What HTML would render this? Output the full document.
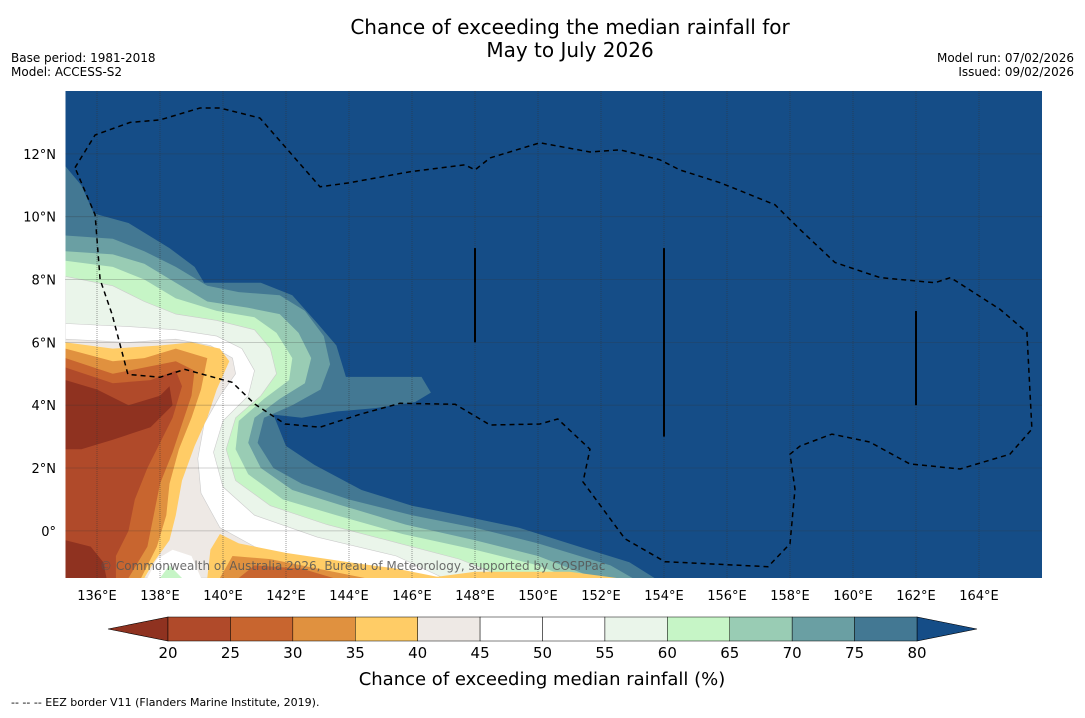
<!DOCTYPE html>
<html><head><meta charset="utf-8">
<style>
body{margin:0;background:#fff;width:1085px;height:713px;overflow:hidden;font-family:"Liberation Sans",sans-serif;}
svg text{font-family:"DejaVu Sans","Liberation Sans",sans-serif;}
</style></head>
<body>
<svg id="chart" width="1085" height="713" xmlns="http://www.w3.org/2000/svg">
<text x="570" y="34" font-size="20" text-anchor="middle">Chance of exceeding the median rainfall for</text>
<text x="570" y="57" font-size="20" text-anchor="middle">May to July 2026</text>
<text x="11" y="62" font-size="12">Base period: 1981-2018</text>
<text x="11" y="76" font-size="12">Model: ACCESS-S2</text>
<text x="1074" y="62" font-size="12" text-anchor="end">Model run: 07/02/2026</text>
<text x="1074" y="76" font-size="12" text-anchor="end">Issued: 09/02/2026</text>
<defs><clipPath id="mapclip"><rect x="65.5" y="91" width="976.5" height="487"/></clipPath></defs>
<g id="map" clip-path="url(#mapclip)"></g>
<g id="axes"></g>
<g id="cbar"></g>
<text x="542" y="685" font-size="18" text-anchor="middle">Chance of exceeding median rainfall (%)</text>
<text x="11" y="706" font-size="11">--  --  -- EEZ border V11 (Flanders Marine Institute, 2019).</text>
</svg>
<script>
const lonMin=135, lonMax=166, latMin=-1.5, latMax=14;
const lonTicks=[136,138,140,142,144,146,148,150,152,154,156,158,160,162,164];
const latTicks=[0,2,4,6,8,10,12];
const bandThresholds=[80,75,70,65,60,55,45,40,35,30,25,20];
const bandColors=["#437893","#6a9fa3","#99ccb4","#c6f5c6","#eaf5ea","#ffffff","#eee9e5","#ffcc66","#e0913f","#c8652f","#b04a2a","#8f3220"];
const cbLevels=[20,25,30,35,40,45,50,55,60,65,70,75,80];
const cbColors=["#b04a2a","#c8652f","#e0913f","#ffcc66","#eee9e5","#ffffff","#ffffff","#eaf5ea","#c6f5c6","#99ccb4","#6a9fa3","#437893"];
const band80=[[135,11.6],[135.5,11.0],[135.9,10.1],[137,9.8],[138.3,9.0],[139.1,8.4],[139.4,7.9],[141.2,7.9],[142.2,7.5],[143,6.6],[143.6,5.9],[143.9,4.9],[146.3,4.9],[146.6,4.4],[146.1,4.1],[144.8,3.9],[143.6,3.8],[142.5,3.6],[141.6,3.7],[142.0,2.7],[142.9,2.1],[144.4,1.3],[146.0,0.8],[147.5,0.5],[149.4,0.1],[151.3,-0.5],[152.9,-1.0],[153.7,-1.5],[135,-1.5]];
const band75=[[135,9.4],[136.5,9.3],[137.5,8.9],[138.5,8.4],[139.5,7.8],[140.5,7.6],[141.8,7.5],[142.6,7.0],[143.2,6.2],[143.4,5.3],[143.1,4.5],[142.2,4.0],[141.3,3.6],[141.1,2.8],[141.6,2.0],[142.5,1.5],[144,1.0],[146,0.5],[148,0.1],[150,-0.4],[152.3,-1.1],[153,-1.5],[135,-1.5]];
const band70=[[135,8.9],[136.5,8.8],[137.5,8.5],[138.5,7.9],[139.5,7.3],[140.8,7.1],[141.8,6.9],[142.4,6.3],[142.8,5.5],[142.6,4.7],[141.8,4.2],[141,3.6],[140.8,2.8],[141.2,2.0],[142.2,1.3],[143.8,0.8],[145.8,0.2],[148,-0.3],[150,-0.8],[151.8,-1.5],[135,-1.5]];
const band65=[[135,8.6],[136.5,8.4],[137.5,8.0],[138.5,7.4],[139.8,7.0],[141,6.8],[141.7,6.3],[142.2,5.5],[142.1,4.8],[141.3,4.2],[140.5,3.5],[140.4,2.6],[140.8,1.8],[141.9,1.0],[143.6,0.5],[145.7,-0.1],[148,-0.6],[150,-1.1],[151,-1.5],[135,-1.5]];
const band60=[[135,8.1],[136.5,7.8],[137.5,7.3],[138.5,6.9],[139.8,6.7],[141,6.4],[141.5,5.8],[141.7,5.0],[141.2,4.3],[140.4,3.6],[140.1,2.6],[140.4,1.6],[141.5,0.8],[143.3,0.2],[145.6,-0.4],[147.5,-0.9],[149,-1.5],[135,-1.5]];
const band55=[[135,6.6],[137,6.5],[138.5,6.4],[139.8,6.2],[140.6,5.8],[141.0,5.1],[140.8,4.3],[140.0,3.5],[139.7,2.5],[140.0,1.4],[141.0,0.5],[143,-0.2],[145.5,-0.8],[147,-1.5],[135,-1.5]];
const band45=[[135,6.1],[137,6.0],[138.5,6.1],[139.6,5.9],[140.3,5.5],[140.4,5.0],[139.9,4.3],[139.4,3.4],[139.2,2.3],[139.3,1.2],[139.9,0.1],[141,-0.5],[142.5,-1.0],[143.5,-1.5],[135,-1.5]];
const band40=[[135,6.0],[136.5,5.8],[138,5.9],[139,6.0],[139.9,5.8],[140.2,5.4],[139.8,4.5],[139.5,3.6],[139.1,2.7],[138.7,1.6],[138.5,0.5],[138.3,-0.3],[137.8,-1.0],[137.5,-1.5],[135,-1.5]];
const band35=[[135,5.8],[136.5,5.4],[137.5,5.5],[138.5,5.8],[139.5,5.5],[139.3,4.5],[139.0,3.6],[138.6,2.6],[138.3,1.5],[138.2,0.5],[137.9,-0.5],[137.4,-1.5],[135,-1.5]];
const band30=[[135,5.5],[136.5,5.0],[137.5,5.2],[138.5,5.4],[139.1,5.1],[139.0,4.3],[138.7,3.4],[138.4,2.5],[138.0,1.5],[137.8,0.5],[137.6,-0.5],[137.0,-1.5],[135,-1.5]];
const band25=[[135,5.2],[136.5,4.7],[137.7,4.8],[138.5,5.1],[138.7,4.6],[138.4,3.6],[138.0,2.8],[137.6,2.0],[137.2,1.0],[137.0,0],[136.6,-0.8],[136.6,-1.5],[135,-1.5]];
const band20=[[135,4.8],[136,4.5],[137,4.0],[138,4.3],[138.3,4.6],[138.4,4.0],[137.7,3.3],[136.5,2.9],[135.5,2.6],[135,2.6]];
const band20b=[[135,-0.3],[135.8,-0.5],[136.2,-1.0],[136.3,-1.5],[135,-1.5]];
const blobWhite=[[137.6,-1.5],[137.9,-0.9],[138.4,-0.6],[139.0,-0.8],[139.3,-1.5]];
const blobGreen=[[138.0,-1.5],[138.3,-1.1],[138.7,-1.5]];
const blobYellow=[[139.5,-1.5],[139.6,-0.6],[139.9,-0.1],[140.5,-0.4],[142,-0.7],[144,-1.0],[145.5,-1.2],[147,-1.5]];
const blobYellow2=[[146.5,-1.5],[148,-1.3],[151,-1.3],[152.5,-1.5]];
const blobOrange=[[139.9,-1.5],[140.3,-0.8],[141.5,-0.9],[143.5,-1.3],[144.5,-1.5]];
const blobOrange2=[[140.5,-1.5],[141,-1.1],[142.5,-1.2],[143.5,-1.5]];
const eez=[[135.3,11.56],[135.94,12.6],[137.05,13.0],[138.0,13.08],[139.27,13.46],[139.9,13.46],[141.17,13.14],[143.08,10.95],[144.03,11.08],[145.94,11.43],[147.68,11.65],[148.0,11.49],[148.48,11.87],[150.06,12.35],[151.65,12.06],[152.6,12.13],[153.87,11.81],[154.5,11.49],[155.78,11.08],[157.52,10.38],[158.32,9.59],[159.43,8.54],[160.86,8.06],[162.6,7.9],[163.1,8.06],[164.67,7.05],[165.52,6.32],[165.68,3.24],[164.98,2.44],[163.4,1.97],[161.8,2.13],[160.53,2.83],[159.33,3.08],[158.32,2.7],[158.0,2.44],[158.16,1.33],[158.0,-0.41],[157.3,-1.14],[154.03,-0.98],[152.76,-0.25],[151.43,1.56],[151.65,2.6],[150.63,3.56],[150.06,3.4],[148.48,3.37],[147.37,4.03],[145.62,4.06],[144.35,3.71],[143.08,3.3],[141.97,3.4],[141.02,4.03],[140.29,4.73],[138.79,5.14],[138.0,4.89],[136.98,4.98],[136.48,6.89],[136.1,8.0],[135.94,10.06],[135.3,11.56]];
const ridges=[[148,9,6],[154,9,3],[162,7,4]];

const X0=65.5,X1=1042,Y0=91,Y1=578;
const xS=l=>X0+(l-lonMin)/(lonMax-lonMin)*(X1-X0);
const yS=l=>Y1-(l-latMin)/(latMax-latMin)*(Y1-Y0);
const NS="http://www.w3.org/2000/svg";
function mk(tag,attrs,parent){const e=document.createElementNS(NS,tag);for(const k in attrs)e.setAttribute(k,attrs[k]);parent.appendChild(e);return e;}
const map=document.getElementById('map'),axes=document.getElementById('axes'),cbar=document.getElementById('cbar');
const bg=mk('rect',{x:X0,y:Y0,width:X1-X0,height:Y1-Y0,fill:'#154d87'},map);


const pts=a=>a.map(p=>xS(p[0]).toFixed(1)+','+yS(p[1]).toFixed(1)).join(' ');
const bands=[band80,band75,band70,band65,band60,band55,band45,band40,band35,band30,band25,band20];
bands.forEach((b,i)=>{
  const p=mk('polygon',{points:pts(b),fill:bandColors[i],stroke:i>=4&&i<=6?'#cccccc':'none','stroke-width':0.6},map);
  
  
});
[[band20b,11],[blobWhite,5],[blobGreen,3],[blobYellow,7],[blobYellow2,7],[blobOrange,8],[blobOrange2,9]].forEach(([b,c])=>{
  const p=mk('polygon',{points:pts(b),fill:bandColors[c]},map);
  
  
});
lonTicks.forEach(l=>{const g=mk('line',{x1:xS(l),x2:xS(l),y1:Y0,y2:Y1,stroke:'#333','stroke-opacity':0.6,'stroke-width':0.8,'stroke-dasharray':'1,1'},map);
  
  });
latTicks.forEach(l=>{const g=mk('line',{x1:X0,x2:X1,y1:yS(l),y2:yS(l),stroke:'#333','stroke-opacity':0.6,'stroke-width':0.8,'stroke-dasharray':'1,1'},map);
  
  });
ridges.forEach(r=>{const g=mk('line',{x1:xS(r[0]),x2:xS(r[0]),y1:yS(r[1]),y2:yS(r[2]),stroke:'#000','stroke-width':2},map);
  
  });
const ez=mk('polyline',{points:pts(eez),fill:'none',stroke:'#000','stroke-width':1.5,'stroke-dasharray':'5,4'},map);


const wm=mk('text',{x:100,y:570,'font-size':12,fill:'#555','fill-opacity':0.85},map);
wm.textContent='© Commonwealth of Australia 2026, Bureau of Meteorology, supported by COSPPac';


lonTicks.forEach(l=>{const t=mk('text',{x:xS(l),y:600,'font-size':13,'text-anchor':'middle'},axes);t.textContent=l+'°E';
  
  });
latTicks.forEach(l=>{const t=mk('text',{x:56,y:yS(l)+5,'font-size':13,'text-anchor':'end'},axes);t.textContent=l===0?'0°':l+'°N';
  
  });
const CX0=168,CX1=917,CY0=617,CY1=641;
const cx=v=>CX0+(v-cbLevels[0])/(cbLevels[cbLevels.length-1]-cbLevels[0])*(CX1-CX0);
const tl=mk('polygon',{points:`108,629 ${CX0},${CY0} ${CX0},${CY1}`,fill:'#8f3220',stroke:'#000','stroke-width':0.6},cbar);


const tr=mk('polygon',{points:`977,629 ${CX1},${CY0} ${CX1},${CY1}`,fill:'#154d87',stroke:'#000','stroke-width':0.6},cbar);


cbColors.forEach((c,i)=>{const r=mk('rect',{x:cx(cbLevels[i]),y:CY0,width:cx(cbLevels[i+1])-cx(cbLevels[i]),height:CY1-CY0,fill:c,stroke:'#000','stroke-width':0.5},cbar);
  
  });
cbLevels.forEach(v=>{const t=mk('text',{x:cx(v),y:658,'font-size':15,'text-anchor':'middle'},cbar);t.textContent=v;
  
  });
</script>
</body></html>
